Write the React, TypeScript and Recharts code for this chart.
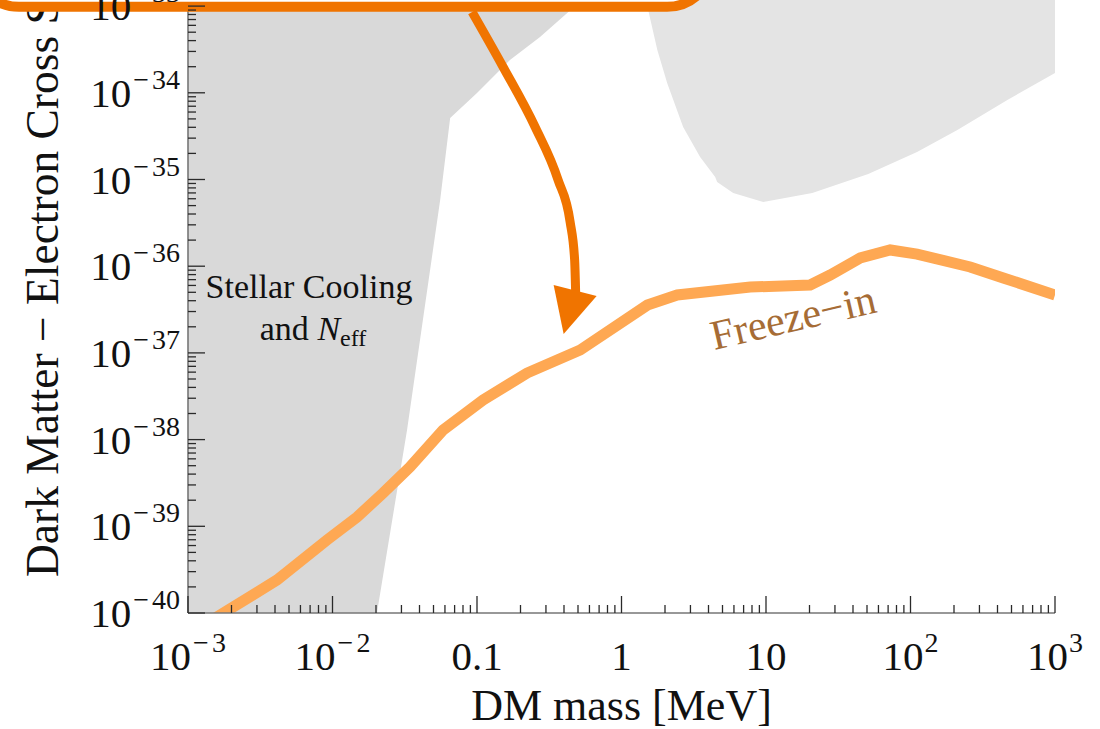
import {
  ComposedChart,
  Area,
  Line,
  XAxis,
  YAxis,
  ReferenceArea,
  ReferenceDot,
  Label,
} from "recharts";

const SERIF = '"Liberation Serif", "Times New Roman", Times, serif';
const INK = "#111111";
const AXIS = "#767676";
const TICK = "#2a2a2a";
const ORANGE = "#f07400";
const FREEZE = "#fea853";
const FREEZE_TEXT = "#a66c35";
const STELLAR_FILL = "#d9d9d9";
const DIRECT_FILL = "#e4e4e4";

const MASS_MIN = 1e-3;
const MASS_MAX = 1e3;
const SIGMA_MIN = 1e-40;
const SIGMA_MAX = 1e-32;

// Freeze-in target line (mass in MeV, cross section in cm^2)
const freezeInMass = [
  1e-3, 4.13e-3, 9.16e-3, 1.48e-2, 2.24e-2, 3.44e-2, 5.82e-2, 0.11, 0.222, 0.518,
  1.51, 2.43, 7.78, 20.2, 27.8, 44.9, 72.4, 111, 259, 439, 1000,
];
const freezeInSigma = [
  5.6e-41, 2.4e-40, 6.95e-40, 1.28e-39, 2.42e-39, 4.83e-39, 1.29e-38, 2.86e-38, 5.86e-38,
  1.08e-37, 3.56e-37, 4.66e-37, 5.75e-37, 6.07e-37, 7.91e-37, 1.245e-36, 1.54e-36,
  1.38e-36, 9.8e-37, 7.31e-37, 4.66e-37,
];

// Stellar cooling + N_eff bound: lower edge, shaded up to the top of the frame
const stellarMass = [1e-3, 0.0203, 0.0328, 0.0556, 0.0652, 0.1, 0.169, 0.273, 0.421, 2.24];
const stellarEdge = [
  1e-40, 1e-40, 1.29e-38, 5.8e-36, 5.12e-35, 9.96e-35, 2.39e-34, 4.41e-34, 8.32e-34, 1e-32,
];

// Direct-detection bound at heavier masses
const directMass = [
  1.26, 1.53, 1.77, 2.07, 2.67, 3.5, 4.45, 4.59, 5.93, 9.57, 20.9, 51, 111, 211, 468, 1000,
];
const directEdge = [
  1e-32, 9.0e-34, 3.12e-34, 1.3e-34, 4.04e-35, 1.82e-35, 1.07e-35, 9.35e-36, 6.98e-36,
  5.5e-36, 6.98e-36, 1.16e-35, 2.07e-35, 3.72e-35, 8.26e-35, 1.69e-34,
];

// Arrow from the legend box down to the freeze-in line
const arrowMass = [0.0925, 0.1516, 0.2525, 0.3641, 0.4411, 0.4739, 0.4815];
const arrowSigma = [8.55e-34, 1.984e-34, 4.03e-35, 9.87e-36, 3.235e-36, 1.179e-36, 5.04e-37];

// Legend box corners (it runs off the top-left of the view)
const boxMass = [3.3e-5, 4.24];
const boxSigma = [9.8e-34, 1e-29];

// Text anchors
const stellarLabelAt = { m: 6.88e-3, sigma: 4.3e-37 };
const freezeLabelAt = { m: 16.2, sigma: 1.79e-37 };

// Axis ticks
const xMajor = [1e-3, 1e-2, 0.1, 1, 10, 100, 1000];
const xMajorLabels: [string, string][] = [
  ["10", "−3"],
  ["10", "−2"],
  ["0.1", ""],
  ["1", ""],
  ["10", ""],
  ["10", "2"],
  ["10", "3"],
];
const yMajor = [1e-40, 1e-39, 1e-38, 1e-37, 1e-36, 1e-35, 1e-34, 1e-33, 1e-32];
const yMajorExp = ["−40", "−39", "−38", "−37", "−36", "−35", "−34", "−33", "−32"];
const minorSteps = [2, 3, 4, 5, 6, 7, 8, 9];

const withMinor = (major: number[]) =>
  major.flatMap((v, i) => (i < major.length - 1 ? [v, ...minorSteps.map((k) => k * v)] : [v]));

const xTicks = withMinor(xMajor);
const yTicks = withMinor(yMajor);

const majorIndex = (list: number[], v: number) =>
  list.findIndex((t) => Math.abs(Math.log10(t / v)) < 1e-6);

const freezeIn = freezeInMass.map((m, i) => ({ m, sigma: freezeInSigma[i] }));
const stellar = stellarMass.map((m, i) => ({ m, band: [stellarEdge[i], SIGMA_MAX] }));
const direct = directMass.map((m, i) => ({ m, band: [directEdge[i], SIGMA_MAX] }));
const arrow = arrowMass.map((m, i) => ({ m, sigma: arrowSigma[i] }));

const MAJOR_LEN = 17;
const MINOR_LEN = 8;
const TICK_FONT = 41;
const SUP_FONT = 28;

// superscript exponent; the minus gets a bit of extra room like the typeset original
function Exponent({ text }: { text: string }) {
  const neg = text.startsWith("−");
  return (
    <>
      {neg && (
        <tspan dy={-18} dx={2} fontSize={SUP_FONT}>
          −
        </tspan>
      )}
      <tspan dy={neg ? 0 : -18} dx={neg ? 3 : 1} fontSize={SUP_FONT}>
        {neg ? text.slice(1) : text}
      </tspan>
    </>
  );
}

function BottomTick(props: any) {
  const { x, y, payload } = props;
  const idx = majorIndex(xMajor, payload.value);
  const len = idx >= 0 ? MAJOR_LEN : MINOR_LEN;
  return (
    <g>
      <line x1={x} x2={x} y1={y} y2={y - len} stroke={TICK} strokeWidth={1.3} />
      {idx >= 0 && (
        <text x={x} y={y + 57} textAnchor="middle" fontFamily={SERIF} fontSize={TICK_FONT} fill={INK}>
          <tspan>{xMajorLabels[idx][0]}</tspan>
          {xMajorLabels[idx][1] && <Exponent text={xMajorLabels[idx][1]} />}
        </text>
      )}
    </g>
  );
}

function TopTick(props: any) {
  const { x, y, payload } = props;
  const len = majorIndex(xMajor, payload.value) >= 0 ? MAJOR_LEN : MINOR_LEN;
  return <line x1={x} x2={x} y1={y} y2={y + len} stroke={TICK} strokeWidth={1.3} />;
}

function LeftTick(props: any) {
  const { x, y, payload } = props;
  const idx = majorIndex(yMajor, payload.value);
  const len = idx >= 0 ? MAJOR_LEN : MINOR_LEN;
  return (
    <g>
      <line x1={x} x2={x + len} y1={y} y2={y} stroke={TICK} strokeWidth={1.3} />
      {idx >= 0 && (
        <text x={x - 8} y={y + 14} textAnchor="end" fontFamily={SERIF} fontSize={TICK_FONT} fill={INK}>
          <tspan>10</tspan>
          <Exponent text={yMajorExp[idx]} />
        </text>
      )}
    </g>
  );
}

function RightTick(props: any) {
  const { x, y, payload } = props;
  const len = majorIndex(yMajor, payload.value) >= 0 ? MAJOR_LEN : MINOR_LEN;
  return <line x1={x} x2={x - len} y1={y} y2={y} stroke={TICK} strokeWidth={1.3} />;
}

function XTitle(props: any) {
  const { x, y, width } = props.viewBox;
  return (
    <text x={x + width / 2} y={y + 107} textAnchor="middle" fontFamily={SERIF} fontSize={44} fill={INK}>
      DM mass [MeV]
    </text>
  );
}

function YTitle(props: any) {
  const { x, y, height } = props.viewBox;
  const tx = x + 58;
  const ty = y + height - 36;
  return (
    <text
      x={tx}
      y={ty}
      transform={`rotate(-90 ${tx} ${ty})`}
      textAnchor="start"
      fontFamily={SERIF}
      fontSize={45.5}
      fill={INK}
    >
      Dark Matter − Electron Cross Section
    </text>
  );
}

function StellarLabel(props: any) {
  const { cx, cy } = props;
  return (
    <text x={cx} y={cy} textAnchor="middle" fontFamily={SERIF} fontSize={34} fill={INK}>
      <tspan x={cx}>Stellar Cooling</tspan>
      <tspan x={cx + 4} dy={42}>
        and <tspan fontStyle="italic">N</tspan>
        <tspan fontSize={24} dy={6}>
          eff
        </tspan>
      </tspan>
    </text>
  );
}

function FreezeLabel(props: any) {
  const { cx, cy } = props;
  return (
    <text
      x={cx}
      y={cy}
      transform={`rotate(-13 ${cx} ${cy})`}
      textAnchor="middle"
      fontFamily={SERIF}
      fontSize={42}
      fill={FREEZE_TEXT}
    >
      Freeze−in
    </text>
  );
}

function ArrowHead(props: any) {
  const { cx, cy, index } = props;
  if (index !== arrow.length - 1) return <g key={`a${index}`} />;
  return (
    <polygon
      key={`a${index}`}
      points={`${cx - 22},${cy - 7} ${cx + 21},${cy + 4} ${cx - 12},${cy + 42}`}
      fill={ORANGE}
    />
  );
}

function LegendBox(props: any) {
  const { x, y, width, height } = props;
  return (
    <rect x={x} y={y} width={width} height={height} rx={45} ry={45} fill="#ffffff" stroke={ORANGE} strokeWidth={10} />
  );
}

export default function App() {
  return (
    <div
      style={{
        position: "absolute",
        left: 0,
        top: 0,
        width: 1100,
        height: 729,
        overflow: "hidden",
        background: "#ffffff",
      }}
    >
      <div style={{ position: "absolute", left: 0, top: -100 }}>
        <ComposedChart width={1100} height={829} margin={{ top: 19.4, right: 45, bottom: 0, left: 0 }}>
          <XAxis
            xAxisId="bottom"
            dataKey="m"
            type="number"
            scale="log"
            domain={[MASS_MIN, MASS_MAX]}
            allowDataOverflow
            ticks={xTicks}
            interval={0}
            tickSize={0}
            tickMargin={0}
            tickLine={false}
            tick={BottomTick}
            axisLine={{ stroke: AXIS, strokeWidth: 1.6 }}
            height={116}
          >
            <Label content={XTitle} />
          </XAxis>
          <XAxis
            xAxisId="top"
            orientation="top"
            dataKey="m"
            type="number"
            scale="log"
            domain={[MASS_MIN, MASS_MAX]}
            allowDataOverflow
            ticks={xTicks}
            interval={0}
            tickSize={0}
            tickMargin={0}
            tickLine={false}
            tick={TopTick}
            axisLine={{ stroke: AXIS, strokeWidth: 1.6 }}
            height={0}
          />
          <YAxis
            yAxisId="left"
            type="number"
            scale="log"
            domain={[SIGMA_MIN, SIGMA_MAX]}
            allowDataOverflow
            ticks={yTicks}
            interval={0}
            tickSize={0}
            tickMargin={0}
            tickLine={false}
            tick={LeftTick}
            axisLine={{ stroke: AXIS, strokeWidth: 1.6 }}
            width={188}
          >
            <Label content={YTitle} />
          </YAxis>
          <YAxis
            yAxisId="right"
            orientation="right"
            type="number"
            scale="log"
            domain={[SIGMA_MIN, SIGMA_MAX]}
            allowDataOverflow
            ticks={yTicks}
            interval={0}
            tickSize={0}
            tickMargin={0}
            tickLine={false}
            tick={RightTick}
            axisLine={{ stroke: AXIS, strokeWidth: 1.6 }}
            width={0}
          />

          <Area
            xAxisId="bottom"
            yAxisId="left"
            data={stellar}
            dataKey="band"
            type="linear"
            stroke="none"
            fill={STELLAR_FILL}
            fillOpacity={1}
            isAnimationActive={false}
          />
          <Area
            xAxisId="bottom"
            yAxisId="left"
            data={direct}
            dataKey="band"
            type="linear"
            stroke="none"
            fill={DIRECT_FILL}
            fillOpacity={1}
            isAnimationActive={false}
          />
          <Line
            xAxisId="bottom"
            yAxisId="left"
            data={freezeIn}
            dataKey="sigma"
            type="linear"
            stroke={FREEZE}
            strokeWidth={11}
            dot={false}
            isAnimationActive={false}
          />
          <Line
            xAxisId="bottom"
            yAxisId="left"
            data={arrow}
            dataKey="sigma"
            type="monotone"
            stroke={ORANGE}
            strokeWidth={9}
            dot={ArrowHead}
            activeDot={false}
            isAnimationActive={false}
          />
          <ReferenceArea
            xAxisId="bottom"
            yAxisId="left"
            x1={boxMass[0]}
            x2={boxMass[1]}
            y1={boxSigma[0]}
            y2={boxSigma[1]}
            ifOverflow="visible"
            shape={LegendBox}
            zIndex={1200}
          />
          <ReferenceDot
            xAxisId="bottom"
            yAxisId="left"
            x={stellarLabelAt.m}
            y={stellarLabelAt.sigma}
            r={0}
            shape={StellarLabel}
          />
          <ReferenceDot
            xAxisId="bottom"
            yAxisId="left"
            x={freezeLabelAt.m}
            y={freezeLabelAt.sigma}
            r={0}
            shape={FreezeLabel}
          />
        </ComposedChart>
      </div>
    </div>
  );
}
